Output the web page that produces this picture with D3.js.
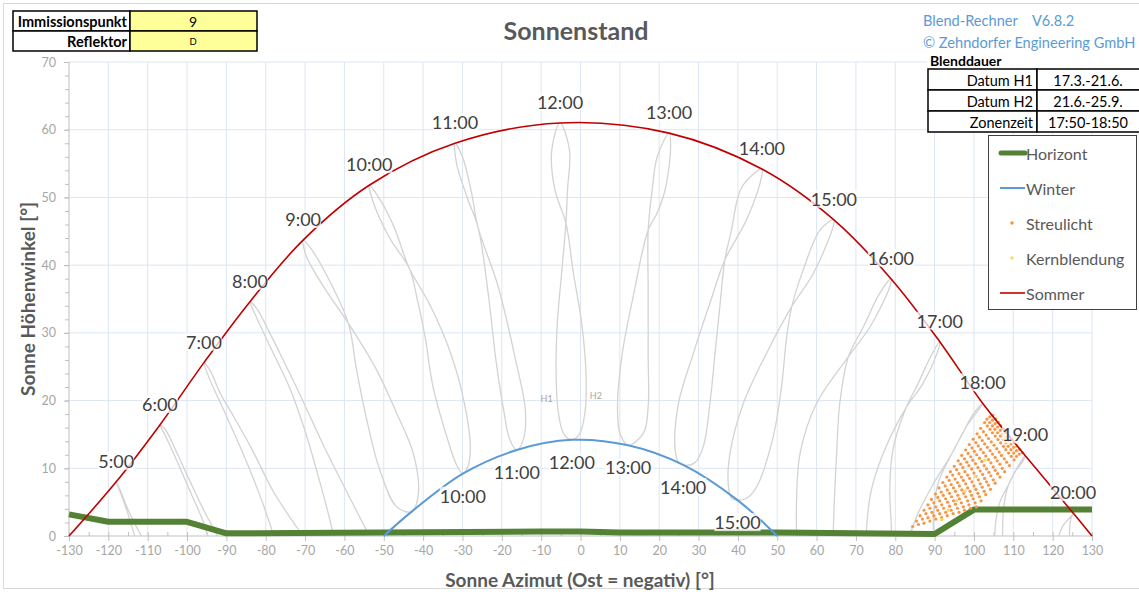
<!DOCTYPE html>
<html><head><meta charset="utf-8">
<script src="https://cdn.jsdelivr.net/npm/d3@7"></script>
<style>
html,body{margin:0;padding:0;background:#fff;overflow:hidden}
svg{display:block;font-family:Lato,"Open Sans",sans-serif}
</style></head><body>
<svg id="c" width="1139" height="592"></svg>
<script>
// ---------------- DATA ----------------
const xTicks = [-130,-120,-110,-100,-90,-80,-70,-60,-50,-40,-30,-20,-10,0,10,20,30,40,50,60,70,80,90,100,110,120,130];
const yTicks = [0,10,20,30,40,50,60,70];

const hourLabels = ["5:00","6:00","7:00","8:00","9:00","10:00","11:00","12:00","13:00","14:00","15:00","16:00","17:00","18:00","19:00","20:00"];
const summerHourPts = [[-118.0,8.0],[-106.9,16.4],[-95.7,25.6],[-84.0,34.6],[-70.5,43.7],[-53.7,51.8],[-31.9,58.0],[-5.2,61.0],[22.5,59.5],[46.1,54.2],[64.4,46.7],[78.9,38.0],[91.3,28.7],[102.2,19.6],[113.0,11.9],[125.2,3.4]];
const sommerCurve = [[-130,0],[-118.0,8.0],[-106.9,16.4],[-95.7,25.6],[-84.0,34.6],[-70.5,43.7],[-53.7,51.8],[-31.9,58.0],[-5.2,61.0],[22.5,59.5],[46.1,54.2],[64.4,46.7],[78.9,38.0],[91.3,28.7],[102.2,19.6],[113.0,11.9],[125.2,3.4],[130,0]];

const winterLabels = ["10:00","11:00","12:00","13:00","14:00","15:00"];
const winterHourPts = [[-29.9,9.2],[-16.2,12.7],[-2.2,14.2],[12.1,13.4],[26.1,10.5],[39.9,5.3]];
const winterCurve = [[-50,0],[-42.9,3.6],[-29.9,9.2],[-16.2,12.7],[-2.2,14.2],[12.1,13.4],[26.1,10.5],[39.9,5.3],[50,0]];

const horizont = [[-130,3.2],[-120,2.1],[-100,2.1],[-90,0.4],[-40,0.55],[-10,0.65],[0,0.65],[10,0.5],[50,0.5],[90,0.3],[100,3.9],[130,3.9]];

// analemma branches (H1 / H2), from summer solstice point downwards
const anaClosed = [false,false,false,false,true,true,true,true,true,true,true,false,false,false,false,false];
const anaH1 = [
  [[-118.0,8.0],[-116.8,6.2],[-115.2,3.6],[-113.3,0],[-112.7,-1]],
  [[-106.9,16.4],[-105.5,14.8],[-102.5,11.0],[-99,6.3],[-95.8,2.0],[-94.8,0],[-94.3,-1]],
  [[-95.7,25.6],[-94.5,23.5],[-91,19],[-86,12.5],[-81.5,6],[-78.5,1],[-78,0],[-77.7,-1]],
  [[-84.0,34.6],[-82.5,32.5],[-78.5,27.5],[-74,22],[-70,15.5],[-66.5,8.5],[-63.7,2.4],[-62.8,0],[-62.4,-1]],
  [[-70.5,43.7],[-68.7,42.6],[-64.5,38.5],[-59,31.4],[-56.9,24.5],[-54.3,17.1],[-51,9.7],[-46.7,4.3],[-42.9,3.6]],
  [[-53.7,51.8],[-52.5,49],[-48.5,44],[-43.5,39.5],[-41.5,35],[-39.5,29.4],[-37.5,22.1],[-34,14.7],[-31.5,10.5],[-29.9,9.2]],
  [[-31.9,58.0],[-31.5,55],[-28.8,50],[-26,45.5],[-23.5,36],[-21.5,26],[-19.5,18.5],[-18,14.3],[-16.2,12.7]],
  [[-5.2,61.0],[-7.3,57],[-6.5,51.1],[-3.7,46.2],[-1.8,38.8],[0.3,31.4],[1.4,24],[1.1,18.1],[-0.3,15],[-2.2,14.2]],
  [[22.5,59.5],[19.5,56],[18.2,51],[17.2,45.2],[17.2,36.3],[17.2,26.5],[17.2,19.1],[16,15.2],[12.1,13.4]],
  [[46.1,54.2],[41,51.5],[38.3,45],[36.7,40.8],[35.5,34.4],[34.2,27],[32.9,19.6],[31.2,13.2],[29,10.8],[26.1,10.5]],
  [[64.4,46.7],[60.9,45.2],[56.6,39.3],[53.7,33.9],[52.4,29.4],[51.1,22.1],[49,14.7],[44.8,7.3],[42,5.5],[39.9,5.3]],
  [[78.9,38.0],[76.1,35.9],[71.9,30.9],[68.1,26.5],[65.9,19.6],[65.1,12.2],[64.5,5],[64.2,0],[64.1,-1]],
  [[91.3,28.7],[89,26.5],[85.8,22.5],[82.8,19],[79.5,13],[78.6,7],[79,1.5],[79,0],[79,-1]],
  [[102.2,19.6],[99.8,18.0],[97,15],[94.5,12.3],[91,8],[89.8,4],[89.7,0],[89.7,-1]],
  [[113.0,11.9],[111.5,10.6],[109.8,8.8],[108.8,7.6],[107.6,4.5],[107.3,1.5],[107.3,0],[107.3,-1]],
  [[125.2,3.4],[124.6,2.5],[124.3,1.0],[124.3,0],[124.3,-1]]
];
const anaH2 = [
  [[-118.0,8.0],[-117.0,6.8],[-115.3,4.3],[-112.9,1.4],[-111.6,0],[-111.0,-1]],
  [[-106.9,16.4],[-105.6,15.8],[-103,12.8],[-99.5,8.4],[-95.5,3.5],[-92.3,0],[-91.8,-1]],
  [[-95.7,25.6],[-94.2,24.5],[-91.5,21],[-88,17.5],[-83.5,12.8],[-78,6.5],[-72,1.2],[-70.5,0],[-70,-1]],
  [[-84.0,34.6],[-82.3,33.6],[-79,30],[-76.4,27],[-71,20.5],[-65,13],[-58.5,5.5],[-54.5,1],[-53.5,0],[-53,-1]],
  [[-70.5,43.7],[-69.8,41.5],[-65.5,37],[-59,31.4],[-51.8,24.5],[-46.7,18.1],[-42.5,12.2],[-41.2,6.3],[-42.9,3.6]],
  [[-53.7,51.8],[-51.5,50.2],[-47.5,45.8],[-43.5,39.5],[-38.5,34.4],[-33,27],[-29.5,19.6],[-28,13.2],[-28.6,10.3],[-29.9,9.2]],
  [[-31.9,58.0],[-30,56],[-27.8,51],[-26,45.5],[-21,37],[-16.5,26],[-14,18.5],[-14.5,14.3],[-16.2,12.7]],
  [[-5.2,61.0],[-2.8,57],[-3.3,51.1],[-3.7,46.2],[-4.8,38.8],[-5.9,31.4],[-6.2,24],[-5.6,18.1],[-4.2,15],[-2.2,14.2]],
  [[22.5,59.5],[22.9,57.5],[21.5,51.1],[19.4,47.6],[17.2,45.2],[13.4,35.4],[10.5,26.5],[9.4,19.1],[10,15.2],[12.1,13.4]],
  [[46.1,54.2],[46,53],[42.2,46.7],[36.7,40.8],[32.9,34.4],[28.7,27],[24.9,19.6],[24,13.2],[24.8,11],[26.1,10.5]],
  [[64.4,46.7],[64.2,45.7],[59.2,38.8],[53.7,33.9],[47.3,27],[41.4,19.6],[38,12.2],[37.6,7.3],[38.5,5.5],[39.9,5.3]],
  [[78.9,38.0],[78.6,36.8],[73.6,30.9],[68.1,26.5],[60,19.6],[55.8,12.2],[54.9,5],[54.9,0],[54.9,-1]],
  [[91.3,28.7],[90.8,27.3],[87,22.5],[82.8,19],[77.5,13],[74,7],[72.8,2],[72.7,0],[72.7,-1]],
  [[102.2,19.6],[101.4,18.8],[98.1,16.2],[94.5,12.3],[89.5,7.5],[85.5,3],[83.7,0],[83.4,-1]],
  [[113.0,11.9],[112.6,11.2],[110.6,9.6],[108.8,7.6],[106.6,5],[105.5,2],[105.3,0],[105.2,-1]],
  [[125.2,3.4],[124.8,3.0],[122.6,1.5],[121.6,0],[121.4,-1]]
];
const anaMarks = ["H1","H2"];
const anaMarkPts = [[-8.6,20.3],[3.9,20.7]];

// Streulicht (rows of sun positions, one row per time step)
const streuRows = [
 [[84.4,1.4],[85.4,2.2],[86.3,3.0],[87.3,3.8],[88.3,4.6],[89.2,5.4],[90.2,6.2],[91.1,7.1],[92.1,7.9],[93.1,8.7],[94.0,9.5],[95.0,10.3],[96.0,11.1],[96.9,11.9],[97.9,12.7],[98.8,13.5],[99.8,14.3],[100.8,15.1],[101.7,15.9],[102.7,16.75],[103.3,17.25],[104.0,17.6],[104.8,17.8]],
 [[85.9,1.7],[86.9,2.5],[87.8,3.3],[88.8,4.1],[89.8,4.9],[90.8,5.7],[91.7,6.5],[92.7,7.4],[93.7,8.2],[94.6,9.0],[95.6,9.8],[96.6,10.6],[97.6,11.4],[98.5,12.2],[99.5,13.0],[100.5,13.8],[101.4,14.6],[102.4,15.4],[103.4,16.25],[104.0,16.75],[104.7,17.1],[105.5,17.3]],
 [[87.3,1.9],[88.3,2.7],[89.3,3.5],[90.3,4.3],[91.3,5.2],[92.2,6.0],[93.2,6.8],[94.2,7.6],[95.2,8.4],[96.2,9.2],[97.2,10.1],[98.2,10.9],[99.2,11.7],[100.1,12.5],[101.1,13.3],[102.1,14.1],[103.1,14.9],[104.1,15.75],[104.7,16.25],[105.4,16.6],[106.2,16.8]],
 [[88.8,2.2],[89.8,3.0],[90.8,3.8],[91.8,4.6],[92.8,5.5],[93.8,6.3],[94.8,7.1],[95.8,7.9],[96.8,8.7],[97.7,9.5],[98.7,10.4],[99.7,11.2],[100.7,12.0],[101.7,12.8],[102.7,13.6],[103.7,14.4],[104.7,15.25],[105.3,15.75],[106.0,16.1],[106.8,16.3]],
 [[90.3,2.5],[91.3,3.3],[92.3,4.1],[93.3,5.0],[94.3,5.8],[95.3,6.6],[96.3,7.4],[97.3,8.2],[98.4,9.0],[99.4,9.9],[100.4,10.7],[101.4,11.5],[102.4,12.3],[103.4,13.1],[104.4,13.9],[105.4,14.75],[106.0,15.25],[106.7,15.6],[107.5,15.8]],
 [[91.8,2.7],[92.8,3.5],[93.8,4.4],[94.8,5.2],[95.9,6.0],[96.9,6.8],[97.9,7.7],[98.9,8.5],[100.0,9.3],[101.0,10.1],[102.0,11.0],[103.0,11.8],[104.1,12.6],[105.1,13.4],[106.1,14.25],[106.7,14.75],[107.4,15.1],[108.2,15.3]],
 [[93.2,3.0],[94.2,3.8],[95.3,4.7],[96.3,5.5],[97.4,6.3],[98.4,7.1],[99.5,8.0],[100.5,8.8],[101.6,9.6],[102.6,10.4],[103.7,11.3],[104.7,12.1],[105.8,12.9],[106.8,13.75],[107.4,14.25],[108.1,14.6],[108.9,14.8]],
 [[94.7,3.3],[95.8,4.1],[96.8,4.9],[97.9,5.8],[99.0,6.6],[100.0,7.4],[101.1,8.3],[102.2,9.1],[103.2,9.9],[104.3,10.8],[105.4,11.6],[106.4,12.4],[107.5,13.25],[108.1,13.75],[108.8,14.1],[109.6,14.3]],
 [[96.2,3.5],[97.3,4.3],[98.4,5.2],[99.4,6.0],[100.5,6.9],[101.6,7.7],[102.7,8.5],[103.8,9.4],[104.9,10.2],[105.9,11.1],[107.0,11.9],[108.1,12.75],[108.7,13.25],[109.4,13.6],[110.2,13.8]],
 [[97.6,3.8],[98.7,4.6],[99.8,5.5],[101.0,6.3],[102.1,7.2],[103.2,8.0],[104.3,8.9],[105.4,9.7],[106.6,10.6],[107.7,11.4],[108.8,12.25],[109.4,12.75],[110.1,13.1],[110.9,13.3]],
 [[99.1,4.1],[100.3,4.9],[101.4,5.8],[102.6,6.6],[103.7,7.5],[104.9,8.3],[106.0,9.2],[107.2,10.0],[108.3,10.9],[109.5,11.75],[110.1,12.25],[110.8,12.6],[111.6,12.8]],
 [[100.6,4.3],[101.8,5.2],[103.0,6.1],[104.2,6.9],[105.4,7.8],[106.6,8.7],[107.8,9.5],[109.0,10.4],[110.2,11.25],[110.8,11.75],[111.5,12.1],[112.3,12.3]]
];
const kernPts = [[107.9,14.4],[102.8,11.2],[100.3,8.8],[97.7,6.6],[95.6,5.2],[93.5,3.8],[91.8,2.4]];

const legendItems = ["Horizont","Winter","Streulicht","Kernblendung","Sommer"];
const infoLeftRows = [["Immissionspunkt","9"],["Reflektor","D"]];
const blendRows = [["Datum H1","17.3.-21.6."],["Datum H2","21.6.-25.9."],["Zonenzeit","17:50-18:50"]];
const titleText = "Sonnenstand";
const xTitle = "Sonne Azimut (Ost = negativ) [°]";
const yTitle = "Sonne Höhenwinkel [°]";
const brandLines = ["Blend-Rechner    V6.8.2","© Zehndorfer Engineering GmbH"];
const blendTitle = "Blenddauer";

// ---------------- STYLE ----------------
const C = {green:"#548235", blue:"#5B9BD5", red:"#C00000", orange:"#F79646", yellow:"#FFD966",
           gray:"#d3d3d3", grid:"#dce6f2", axis:"#bfbfbf", tick:"#a6a6a6", text:"#404040", title:"#595959"};

const svg = d3.select("#c");
const x = d3.scaleLinear().domain([-130,130]).range([69,1092]);
const y = d3.scaleLinear().domain([0,70]).range([536,62]);

svg.append("rect").attr("x",3.5).attr("y",3.5).attr("width",1200).attr("height",585)
  .attr("fill","#fff").attr("stroke","#d9d9d9");

svg.append("clipPath").attr("id","plotclip").append("rect")
  .attr("x",x(-130)).attr("y",y(70)).attr("width",x(130)-x(-130)).attr("height",y(0)-y(70));

// grid
const grid = svg.append("g");
grid.selectAll("line.v").data(xTicks.filter(d=>d>-130)).join("line")
  .attr("x1",d=>x(d)).attr("x2",d=>x(d)).attr("y1",y(70)).attr("y2",y(0))
  .attr("stroke",C.grid).attr("stroke-width",1);
grid.selectAll("line.h").data(yTicks.filter(d=>d>0)).join("line")
  .attr("x1",x(-130)).attr("x2",x(130)).attr("y1",d=>y(d)).attr("y2",d=>y(d))
  .attr("stroke",C.grid).attr("stroke-width",1);

// axes
function styleAxis(g){
  g.selectAll(".domain").attr("stroke",C.axis);
  g.selectAll(".tick line").attr("stroke",C.axis);
  g.selectAll(".tick text").attr("fill",C.tick).attr("font-size",12.5).attr("font-family","Lato, sans-serif");
}
const xMinor = d3.range(-130,131,5);
const yMinor = d3.range(0,71,2);
svg.append("g").attr("transform",`translate(0,${y(0)})`)
  .call(d3.axisTop(x).tickValues(xMinor).tickSize(4).tickFormat(""))
  .call(g=>{g.select(".domain").remove(); g.selectAll(".tick line").attr("stroke",C.axis);});
svg.append("g").attr("transform",`translate(${x(-130)},0)`)
  .call(d3.axisLeft(y).tickValues(yMinor).tickSize(4).tickFormat(""))
  .call(g=>{g.select(".domain").remove(); g.selectAll(".tick line").attr("stroke",C.axis);});
svg.append("g").attr("transform",`translate(0,${y(0)})`)
  .call(d3.axisBottom(x).tickValues(xTicks).tickSize(5).tickPadding(5).tickFormat(d=>String(d)))
  .call(g=>g.select(".domain").attr("d",`M${x(-130)},0H${x(130)}`))
  .call(styleAxis);
svg.append("g").attr("transform",`translate(${x(-130)},0)`)
  .call(d3.axisLeft(y).tickValues(yTicks).tickSize(5).tickPadding(8).tickFormat(d=>String(d)))
  .call(g=>g.select(".domain").attr("d",`M0,${y(0)}V${y(70)}`))
  .call(styleAxis);

// analemmas
const lineGen = d3.line().x(d=>x(d[0])).y(d=>y(d[1]));
const ana = svg.append("g").attr("clip-path","url(#plotclip)");
anaH1.forEach((a,i)=>{
  const b = anaH2[i];
  let pts, curve;
  if(anaClosed[i]){ pts = a.concat(b.slice(1,-1).reverse()); curve = d3.curveCatmullRomClosed.alpha(0.5); }
  else { pts = a.slice().reverse().concat(b.slice(1)); curve = d3.curveCatmullRom.alpha(0.5); }
  ana.append("path").attr("d",lineGen.curve(curve)(pts))
    .attr("fill","none").attr("stroke",C.gray).attr("stroke-width",1.3);
});
svg.selectAll("text.hm").data(anaMarks).join("text")
  .attr("x",(d,i)=>x(anaMarkPts[i][0])).attr("y",(d,i)=>y(anaMarkPts[i][1]))
  .attr("text-anchor","middle").attr("dominant-baseline","central")
  .attr("font-size",9).attr("fill","#a6a6a6").text(d=>d);

// horizon
svg.append("path").attr("d",lineGen.curve(d3.curveLinear)(horizont))
  .attr("fill","none").attr("stroke",C.green).attr("stroke-width",6).attr("stroke-linejoin","round");
// winter
svg.append("path").attr("d",lineGen.curve(d3.curveCatmullRom.alpha(0.5))(winterCurve))
  .attr("fill","none").attr("stroke",C.blue).attr("stroke-width",2);
// streulicht dots
const dots = svg.append("g");
dots.selectAll("circle.s").data(streuRows.flat()).join("circle")
  .attr("cx",d=>x(d[0])).attr("cy",d=>y(d[1])).attr("r",1.6).attr("fill",C.orange);
dots.selectAll("circle.k").data(kernPts).join("circle")
  .attr("cx",d=>x(d[0])).attr("cy",d=>y(d[1])).attr("r",1.7).attr("fill",C.yellow);
// summer
svg.append("path").attr("d",lineGen.curve(d3.curveCatmullRom.alpha(0.5))(sommerCurve))
  .attr("fill","none").attr("stroke",C.red).attr("stroke-width",1.6);

// hour labels
function label(g, txt, cx, cy){
  const gg = g.append("g");
  const r = gg.append("rect");
  const t = gg.append("text").attr("x",cx).attr("y",cy).attr("text-anchor","middle")
    .attr("dominant-baseline","central").attr("font-size",18).attr("fill",C.text).text(txt);
  const bb = t.node().getBBox();
  r.attr("x",bb.x).attr("y",bb.y+2).attr("width",bb.width).attr("height",bb.height-4)
    .attr("fill","#fff").attr("fill-opacity",0.75);
}
const lab = svg.append("g");
hourLabels.forEach((h,i)=>label(lab,h,x(summerHourPts[i][0]),y(summerHourPts[i][1])-21));
winterLabels.forEach((h,i)=>label(lab,h,x(winterHourPts[i][0]),y(winterHourPts[i][1])+22));

// titles
svg.append("text").attr("x",576).attr("y",30).attr("text-anchor","middle").attr("dominant-baseline","central")
  .attr("font-size",25).attr("font-weight","bold").attr("fill",C.title).text(titleText);
svg.append("text").attr("x",580).attr("y",579).attr("text-anchor","middle").attr("dominant-baseline","central")
  .attr("font-size",19).attr("font-weight","bold").attr("fill",C.title).text(xTitle);
svg.append("text").attr("transform","translate(27,299) rotate(-90)").attr("text-anchor","middle")
  .attr("dominant-baseline","central").attr("font-size",19).attr("font-weight","bold").attr("fill",C.title).text(yTitle);

// top-left info table
const tl = svg.append("g");
infoLeftRows.forEach((r,i)=>{
  const y0 = 11 + i*20;
  tl.append("rect").attr("x",13).attr("y",y0).attr("width",117).attr("height",20).attr("fill","#fff").attr("stroke","#000").attr("stroke-width",1.5);
  tl.append("rect").attr("x",130).attr("y",y0).attr("width",127).attr("height",20).attr("fill","#FFFF99").attr("stroke","#000").attr("stroke-width",1.5);
  tl.append("text").attr("x",127).attr("y",y0+10.5).attr("text-anchor","end").attr("dominant-baseline","central")
    .attr("font-size",14.5).attr("font-weight","bold").attr("fill","#000").text(r[0]);
  tl.append("text").attr("x",193).attr("y",y0+10.5).attr("text-anchor","middle").attr("dominant-baseline","central")
    .attr("font-size",i===0?14:9.5).attr("fill","#000").text(r[1]);
});

// brand
svg.selectAll("text.brand").data(brandLines).join("text")
  .attr("x",923).attr("y",(d,i)=>20+i*22).attr("dominant-baseline","central")
  .attr("font-size",14.6).attr("fill",C.blue).style("white-space","pre").text(d=>d);

// Blenddauer
const bd = svg.append("g");
bd.append("rect").attr("x",927).attr("y",52).attr("width",220).attr("height",17).attr("fill","#fff");
bd.append("text").attr("x",930).attr("y",60.5).attr("dominant-baseline","central").attr("font-size",14)
  .attr("font-weight","bold").attr("fill","#000").text(blendTitle);
blendRows.forEach((r,i)=>{
  const y0 = 69 + i*21;
  bd.append("rect").attr("x",928).attr("y",y0).attr("width",109).attr("height",21).attr("fill","#fff").attr("stroke","#000").attr("stroke-width",1.5);
  bd.append("rect").attr("x",1037).attr("y",y0).attr("width",120).attr("height",21).attr("fill","#fff").attr("stroke","#000").attr("stroke-width",1.5);
  bd.append("text").attr("x",1033).attr("y",y0+11).attr("text-anchor","end").attr("dominant-baseline","central")
    .attr("font-size",14.5).attr("fill","#000").text(r[0]);
  bd.append("text").attr("x",1088).attr("y",y0+11).attr("text-anchor","middle").attr("dominant-baseline","central")
    .attr("font-size",14.5).attr("fill","#000").text(r[1]);
});

// legend
const lg = svg.append("g");
lg.append("rect").attr("x",988.5).attr("y",135.5).attr("width",148).attr("height",174)
  .attr("fill","#fff").attr("stroke","#404040").attr("stroke-width",1);
legendItems.forEach((name,i)=>{
  const cy = 153 + i*35;
  if(i===0) lg.append("line").attr("x1",1001).attr("x2",1025).attr("y1",cy).attr("y2",cy).attr("stroke",C.green).attr("stroke-width",5).attr("stroke-linecap","round");
  if(i===1) lg.append("line").attr("x1",1000).attr("x2",1025).attr("y1",cy).attr("y2",cy).attr("stroke",C.blue).attr("stroke-width",2);
  if(i===2) lg.append("circle").attr("cx",1012).attr("cy",cy).attr("r",1.8).attr("fill",C.orange);
  if(i===3) lg.append("circle").attr("cx",1012).attr("cy",cy).attr("r",1.8).attr("fill",C.yellow);
  if(i===4) lg.append("line").attr("x1",1000).attr("x2",1025).attr("y1",cy).attr("y2",cy).attr("stroke",C.red).attr("stroke-width",1.6);
  lg.append("text").attr("x",1026).attr("y",cy).attr("dominant-baseline","central")
    .attr("font-size",16).attr("fill",C.title).text(name);
});
</script>
</body></html>
